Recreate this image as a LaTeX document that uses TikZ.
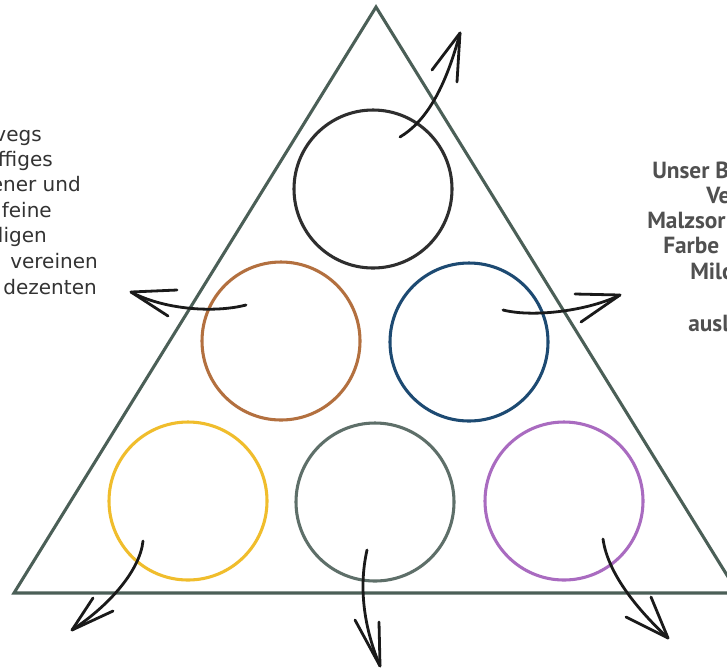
\documentclass[tikz,border=0pt]{standalone}
\usepackage{fontspec}
\setmainfont{DejaVu Sans}
\newfontfamily\rightfont{PT Sans}
\definecolor{tric}{HTML}{4B5F57}
\definecolor{cblack}{HTML}{2E2E2E}
\definecolor{corange}{HTML}{B3703F}
\definecolor{cblue}{HTML}{1D4A72}
\definecolor{cyellow}{HTML}{F0BD2C}
\definecolor{cgreen}{HTML}{5E6F69}
\definecolor{cpurple}{HTML}{A96BC0}
\definecolor{arrowc}{HTML}{1A1A1A}
\definecolor{txtl}{HTML}{333333}
\definecolor{txtr}{HTML}{505050}
\begin{document}
\begin{tikzpicture}[x=0.75pt,y=-0.75pt,
  ring/.style={circle, draw, line width=2.3pt, minimum size=118.5pt, inner sep=0pt},
  tri/.style={draw=tric, line width=2.3pt, line join=miter},
  arr/.style={draw=arrowc, line width=2.1pt, line cap=round, line join=round},
  lefttxt/.style={anchor=mid east, inner sep=0pt, text=txtl, font=\fontsize{15}{18}\selectfont},
  righttxt/.style={anchor=mid west, inner sep=0pt, text=txtr, font=\rightfont\fontsize{17.5}{19}\selectfont\bfseries}]
\useasboundingbox (0,0) rectangle (727,669);
\fill[white] (0,0) rectangle (727,669);
\clip (0,0) rectangle (727,669);

% triangle
\coordinate (apex) at (376,7);
\coordinate (bl) at (14,593);
\coordinate (br) at (738,593);
\draw[tri] (apex) -- (bl) -- (br) -- cycle;

% circles
\node[ring, draw=cblack]  (cb) at (373,189) {};
\node[ring, draw=corange] (co) at (281,341) {};
\node[ring, draw=cblue]   (cu) at (469,342) {};
\node[ring, draw=cyellow] (cy) at (188,501) {};
\node[ring, draw=cgreen]  (cg) at (375,502) {};
\node[ring, draw=cpurple] (cp) at (564,501) {};

% arrows: tails, controls, tips, barbs
\coordinate (a1t) at (400,137); \coordinate (a1c) at (425,122); \coordinate (a1d) at (445,90);
\coordinate (a1h) at (460,33); \coordinate (a1b) at (432,70); \coordinate (a1e) at (457,82);
\draw[arr] (a1t) .. controls (a1c) and (a1d) .. (a1h);
\draw[arr] (a1b) -- (a1h) -- (a1e);

\coordinate (a2t) at (246,305); \coordinate (a2c) at (215,313); \coordinate (a2d) at (165,310);
\coordinate (a2h) at (131,292); \coordinate (a2b) at (177,290); \coordinate (a2e) at (168,316);
\draw[arr] (a2t) .. controls (a2c) and (a2d) .. (a2h);
\draw[arr] (a2b) -- (a2h) -- (a2e);

\coordinate (a3t) at (503,310); \coordinate (a3c) at (535,318); \coordinate (a3d) at (590,310);
\coordinate (a3h) at (620,295); \coordinate (a3b) at (575,294); \coordinate (a3e) at (581,322);
\draw[arr] (a3t) .. controls (a3c) and (a3d) .. (a3h);
\draw[arr] (a3b) -- (a3h) -- (a3e);

\coordinate (a4t) at (143,541); \coordinate (a4c) at (140,570); \coordinate (a4d) at (110,605);
\coordinate (a4h) at (72,630); \coordinate (a4b) at (113,611); \coordinate (a4e) at (93,598);
\draw[arr] (a4t) .. controls (a4c) and (a4d) .. (a4h);
\draw[arr] (a4b) -- (a4h) -- (a4e);

\coordinate (a5t) at (367,550); \coordinate (a5c) at (358,590); \coordinate (a5d) at (365,630);
\coordinate (a5h) at (380,666); \coordinate (a5b) at (355,620); \coordinate (a5e) at (379,622);
\draw[arr] (a5t) .. controls (a5c) and (a5d) .. (a5h);
\draw[arr] (a5b) -- (a5h) -- (a5e);

\coordinate (a6t) at (603,539); \coordinate (a6c) at (608,575); \coordinate (a6d) at (640,612);
\coordinate (a6h) at (668,638); \coordinate (a6b) at (626,617); \coordinate (a6e) at (651,597);
\draw[arr] (a6t) .. controls (a6c) and (a6d) .. (a6h);
\draw[arr] (a6b) -- (a6h) -- (a6e);

% left text (cut at the left edge)
\node[lefttxt] (l1) at (42,138) {vegs};
\node[lefttxt] (l2) at (53,163) {ffiges};
\node[lefttxt] (l3) at (81,188) {ener und};
\node[lefttxt] (l4) at (52,214) {feine};
\node[lefttxt] (l5) at (47,239) {ligen};
\node[lefttxt] (l6) at (98,265) {vereinen};
\node[lefttxt] (l7) at (97,291) {dezenten};

% right text (cut at the right edge)
\node[righttxt] (r1) at (652,175) {Unser B};
\node[righttxt] (r2) at (706,200) {Ve};
\node[righttxt] (r3) at (647,225) {Malzsor};
\node[righttxt] (r4) at (663,250) {Farbe};
\node[righttxt] (r5) at (690,276) {Milc};
\node[righttxt] (r6) at (688,328) {ausl};
\end{tikzpicture}
\end{document}
